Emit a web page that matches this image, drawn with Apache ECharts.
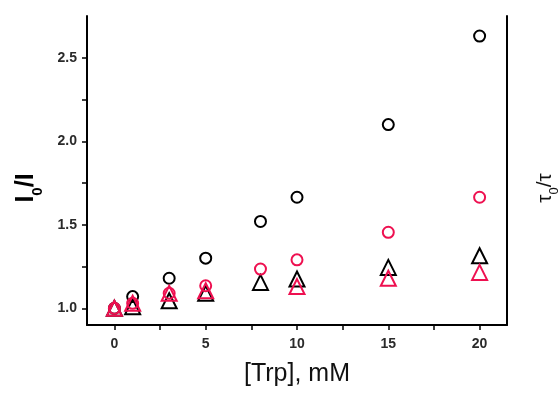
<!DOCTYPE html>
<html>
<head>
<meta charset="utf-8">
<script src="https://cdn.jsdelivr.net/npm/echarts@6/dist/echarts.min.js"></script>
<style>
  html, body { margin: 0; padding: 0; background: #fff; }
  #chart { width: 558px; height: 396px; }
</style>
</head>
<body>
<div id="chart"></div>
<script>
// Tryptophan concentration, mM
const trp = [0, 1, 3, 5, 8, 10, 15, 20];

// Steady-state quenching I0/I and lifetime ratio tau0/tau
const blackCircles = [1.00, 1.07, 1.18, 1.30, 1.52, 1.665, 2.10, 2.63];
const redCircles   = [1.00, 1.03, 1.09, 1.135, 1.235, 1.29, 1.455, 1.665];
const blackTriangles = [1.00, 1.01, 1.045, 1.09, 1.155, 1.175, 1.245, 1.315];
const redTriangleX = [0, 1, 3, 5, 10, 15, 20];
const redTriangles = [1.00, 1.03, 1.09, 1.105, 1.13, 1.18, 1.215];

// Axis labels and tick positions
const xLabels = [0, 5, 10, 15, 20];
const xTicks = [0, 2.5, 5, 7.5, 10, 12.5, 15, 17.5, 20];
const yLabels = [1.0, 1.5, 2.0, 2.5];
const yTicks = [1.0, 1.25, 1.5, 1.75, 2.0, 2.25, 2.5];

const BLACK = '#000000';
const RED = '#ee1050';

function pairs(xs, ys) { return xs.map((x, i) => [x, ys[i]]); }

function scatter(name, xs, ys, symbol, size, color) {
  return {
    name: name,
    type: 'scatter',
    data: pairs(xs, ys),
    symbol: symbol,
    symbolSize: size,
    itemStyle: { color: 'transparent', borderColor: color, borderWidth: 2, opacity: 1 },
    emphasis: { disabled: true }
  };
}

const chart = echarts.init(document.getElementById('chart'), null, { renderer: 'canvas' });

const tickLabelStyle = { fontFamily: 'Liberation Sans, Arial, sans-serif', fontWeight: 'bold', fontSize: 14, color: '#2a2a2a' };

chart.setOption({
  animation: false,
  backgroundColor: '#ffffff',
  grid: { left: 87, right: 51, top: 16, bottom: 71, containLabel: false },
  xAxis: {
    type: 'value',
    min: -1.5,
    max: 21.5,
    splitLine: { show: false },
    axisLine: { show: true, onZero: false, lineStyle: { color: BLACK, width: 2 } },
    axisTick: { show: true, inside: false, length: 5, customValues: xTicks, lineStyle: { color: BLACK, width: 1.5 } },
    axisLabel: { customValues: xLabels, margin: 12, ...tickLabelStyle },
    minorTick: { show: false }
  },
  yAxis: [
    {
      type: 'value',
      min: 0.9,
      max: 2.75,
      splitLine: { show: false },
      axisLine: { show: true, onZero: false, lineStyle: { color: BLACK, width: 2 } },
      axisTick: { show: true, inside: false, length: 5, customValues: yTicks, lineStyle: { color: BLACK, width: 1.5 } },
      axisLabel: { customValues: yLabels, margin: 10, formatter: v => v.toFixed(1), ...tickLabelStyle }
    },
    {
      type: 'value',
      position: 'right',
      min: 0.9,
      max: 2.75,
      splitLine: { show: false },
      axisLine: { show: true, onZero: false, lineStyle: { color: BLACK, width: 2 } },
      axisTick: { show: false },
      axisLabel: { show: false }
    }
  ],
  graphic: [
    {
      type: 'text',
      x: 24, y: 188,
      rotation: Math.PI / 2,
      style: {
        text: '{a|I}{s|0}{a|/I}',
        align: 'center', verticalAlign: 'middle',
        rich: {
          a: { fontFamily: 'Liberation Sans, Arial, sans-serif', fontWeight: 'bold', fontSize: 25, fill: '#000', lineHeight: 30, verticalAlign: 'bottom' },
          s: { fontFamily: 'Liberation Sans, Arial, sans-serif', fontWeight: 'bold', fontSize: 15, fill: '#000', lineHeight: 30, verticalAlign: 'bottom', padding: [0, 0, -6, 0] }
        }
      }
    },
    {
      type: 'text',
      x: 543, y: 188,
      rotation: Math.PI / 2,
      style: {
        text: '{a|τ}{s|0}{a|/τ}',
        align: 'center', verticalAlign: 'middle',
        rich: {
          a: { fontFamily: 'Liberation Sans, Arial, sans-serif', fontSize: 21, fill: '#111', lineHeight: 26, verticalAlign: 'bottom' },
          s: { fontFamily: 'Liberation Sans, Arial, sans-serif', fontSize: 13, fill: '#111', lineHeight: 26, verticalAlign: 'bottom', padding: [0, 0, -5, 0] }
        }
      }
    },
    {
      type: 'text',
      x: 297, y: 374,
      style: {
        text: '[Trp], mM',
        align: 'center', verticalAlign: 'middle',
        font: '25px Liberation Sans, Arial, sans-serif',
        fill: '#111'
      }
    }
  ],
  series: [
    scatter('I0/I black', trp, blackCircles, 'circle', 11, BLACK),
    scatter('tau0/tau black', trp, blackTriangles, 'triangle', 15, BLACK),
    scatter('I0/I red', trp, redCircles, 'circle', 11, RED),
    scatter('tau0/tau red', redTriangleX, redTriangles, 'triangle', 15, RED)
  ]
});
</script>
</body>
</html>
